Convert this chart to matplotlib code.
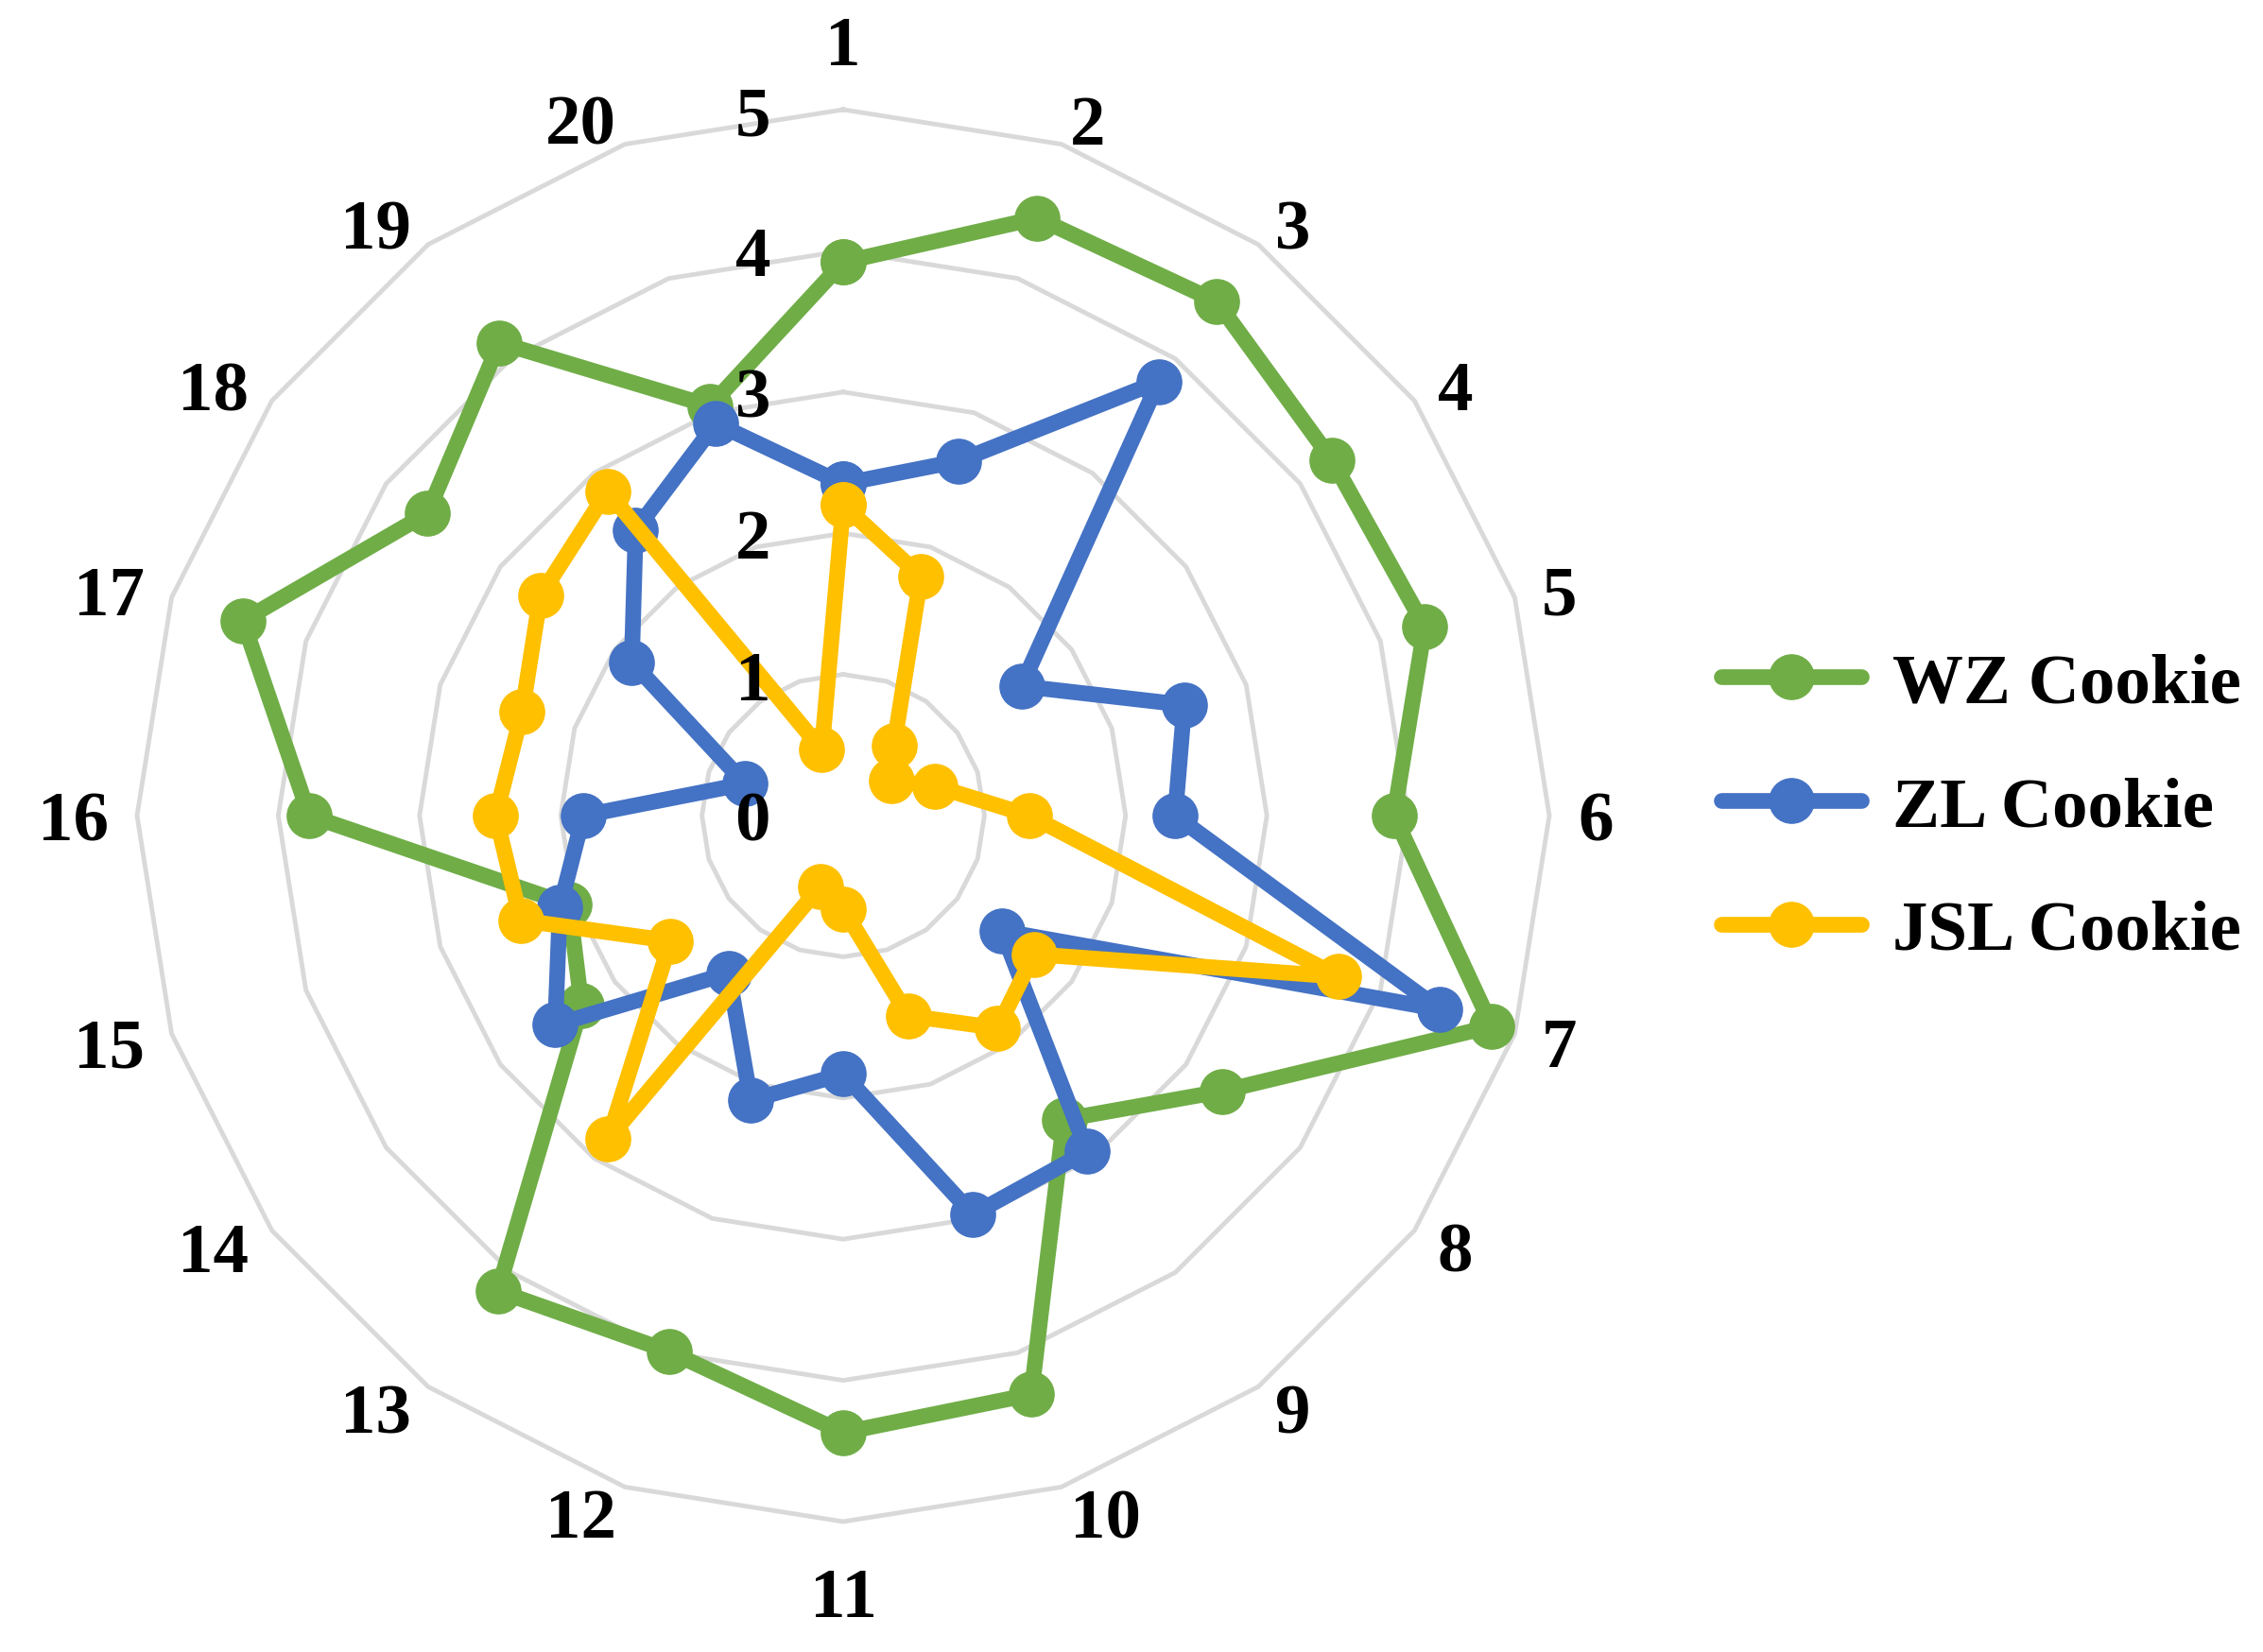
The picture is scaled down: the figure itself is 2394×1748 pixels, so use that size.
import numpy as np
import matplotlib
matplotlib.use('Agg')
import matplotlib.pyplot as plt

categories = [str(i) for i in range(1, 21)]
wz = [3.92, 4.45, 4.50, 4.28, 4.33, 3.90, 4.83, 3.32, 2.66, 4.31,
      4.37, 3.99, 4.16, 2.29, 2.04, 3.78, 4.47, 3.64, 4.14, 3.05]
zl = [2.35, 2.64, 3.80, 1.56, 2.54, 2.35, 4.44, 1.39, 2.94, 2.97,
      1.83, 2.12, 1.38, 2.52, 2.11, 1.84, 0.73, 1.85, 2.50, 2.92]
jsl = [2.20, 1.78, 0.61, 0.42, 0.68, 1.32, 3.69, 1.67, 1.86, 1.49,
       0.66, 0.53, 2.83, 1.51, 2.40, 2.46, 2.39, 2.65, 2.84, 0.49]
series_names = ['WZ Cookie', 'ZL Cookie', 'JSL Cookie']
series_colors = ['#70AD47', '#4472C4', '#FFC000']
rticks = [0, 1, 2, 3, 4, 5]

plt.rcParams['font.family'] = ['Liberation Serif', 'DejaVu Serif']
plt.rcParams['font.weight'] = 'bold'
FS = 54

W, H = 2394, 1749
fig = plt.figure(figsize=(W / 100, H / 100), dpi=100)
cx, cy, R = 892, 864, 747
ax = fig.add_axes([(cx - R) / W, (H - cy - R) / H, 2 * R / W, 2 * R / H],
                  projection='polar')
ax.set_theta_zero_location('N')
ax.set_theta_direction(-1)
ax.set_ylim(0, 5)
ax.grid(False)
ax.set_xticks([])
ax.set_yticks([])
ax.spines['polar'].set_visible(False)
ax.patch.set_visible(False)

n = len(categories)
theta = np.arange(n) * 2 * np.pi / n
theta_c = np.append(theta, theta[0])

for r in rticks[1:]:
    ax.plot(theta_c, [r] * (n + 1), color='#D9D9D9', lw=3.5, zorder=1,
            clip_on=False)

for i, (vals, name, c) in enumerate(zip([wz, zl, jsl], series_names, series_colors)):
    v = np.append(vals, vals[0])
    ax.plot(theta_c, v, color=c, lw=12, marker='o', ms=34, label=name,
            solid_joinstyle='round', solid_capstyle='round',
            zorder=3 + i, clip_on=False)

# category labels
for t, lab in zip(theta, categories):
    sx, sy = np.sin(t), np.cos(t)
    if abs(sx) < 1e-6:
        ha = 'center'
        off = (0, 74 * np.sign(sy))
    else:
        ha = 'left' if sx > 0 else 'right'
        off = (30 * sx, 28 * sy)
    ax.annotate(lab, xy=(t, 5), xytext=off,
                textcoords='offset pixels', ha=ha, va='center_baseline',
                fontsize=FS, fontweight='bold', annotation_clip=False)

# radial tick labels
for r in rticks:
    ax.annotate(str(r), xy=(0, r), xytext=(-77, 0), textcoords='offset pixels',
                ha='right', va='center_baseline', fontsize=FS,
                fontweight='bold', annotation_clip=False, zorder=10)

leg = fig.legend(loc='center left', bbox_to_anchor=(1821 / W, 1 - 856 / H),
                 frameon=False, borderpad=0, borderaxespad=0,
                 handlelength=1.97, handletextpad=0.45, labelspacing=0.83,
                 prop={'size': FS, 'weight': 'bold'})

fig.savefig('out.png', dpi=100)
